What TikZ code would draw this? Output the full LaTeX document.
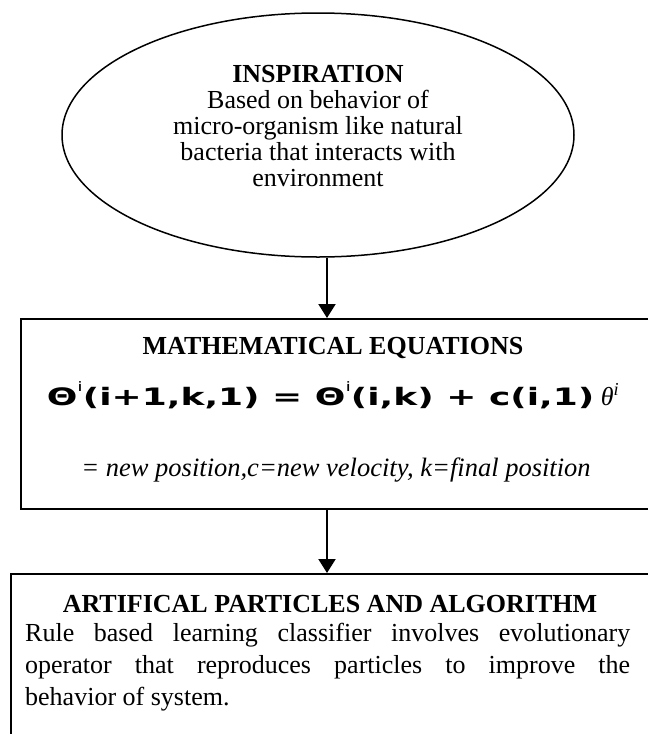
\documentclass[tikz,border=0pt]{standalone}
\usepackage{fontspec}
\setmainfont{Liberation Serif}
\newfontfamily\eqfont[FakeStretch=1.5]{DejaVu Sans}
\usepackage{tikz}
\usetikzlibrary{shapes.geometric,arrows.meta,positioning}
\definecolor{FlowBlack}{HTML}{000000}
\definecolor{FlowWhite}{HTML}{ffffff}
\newcommand{\supi}{\raisebox{0.55em}{\fontsize{13}{13}\selectfont\mdseries i}}
\tikzset{
    % Base text style
    basetext/.style={
        inner sep=0pt,
        text=FlowBlack,
        font=\fontsize{26}{26}\selectfont
    },
    % Title text style
    titletext/.style={
        basetext,
        font=\fontsize{26}{26}\selectfont\bfseries
    },
    % Inspiration ellipse
    ideanode/.style={
        ellipse,
        draw=FlowBlack,
        fill=FlowWhite,
        line width=1.5pt,
        minimum width=512pt,
        minimum height=244pt,
        inner sep=0pt
    },
    % Stage box style
    stagebox/.style={
        draw=FlowBlack,
        line width=2pt,
        inner sep=0pt,
        minimum width=700pt,
        anchor=north west
    },
    % Arrow style
    myarrow/.style={
        -{Triangle[width=17pt,length=14pt]},
        line width=2pt,
        draw=FlowBlack
    }
}
\begin{document}
\begin{tikzpicture}[x=1pt,y=-1pt]
    \useasboundingbox (0,0) rectangle (648,734);
    \clip (0,0) rectangle (648,734);

    \node[ideanode] (insp) at (318,135) {};
    \node[basetext, align=center] (insptext) at (318,126) {\textbf{INSPIRATION}\\Based on behavior of\\micro-organism like natural\\bacteria that interacts with\\environment};

    \node[stagebox, minimum height=190pt] (mathbox) at (20,318) {};
    \node[titletext, anchor=base] (mathtitle) at (333,354) {MATHEMATICAL EQUATIONS};
    \node[basetext, anchor=base] (matheq) at (333,405) {{\eqfont\bfseries\fontsize{24}{24}\selectfont Θ\supi(i+1,k,1) = Θ\supi(i,k) + c(i,1)} \textit{θ\textsuperscript{i}}};
    \node[basetext, font=\fontsize{26.5}{26.5}\selectfont, anchor=base] (mathnote) at (336,476) {\textit{= new position,c=new velocity, k=final position}};

    \node[stagebox, minimum height=200pt] (algobox) at (10,573) {};
    \node[titletext, anchor=base] (algotitle) at (330,612) {ARTIFICAL PARTICLES AND ALGORITHM};
    \node[basetext, font=\fontsize{26}{32}\selectfont, text width=605pt, align=justify, anchor=north west] (algotext) at (25,623) {Rule based learning classifier involves evolutionary\linebreak operator that reproduces particles to improve the\linebreak behavior of system.};

    \draw[myarrow] ([xshift=9pt]insp.south) -- ([xshift=9pt]insp.south |- mathbox.north);
    \draw[myarrow] ([xshift=9pt]insp.south |- mathbox.south) -- ([xshift=9pt]insp.south |- algobox.north);
\end{tikzpicture}
\end{document}
